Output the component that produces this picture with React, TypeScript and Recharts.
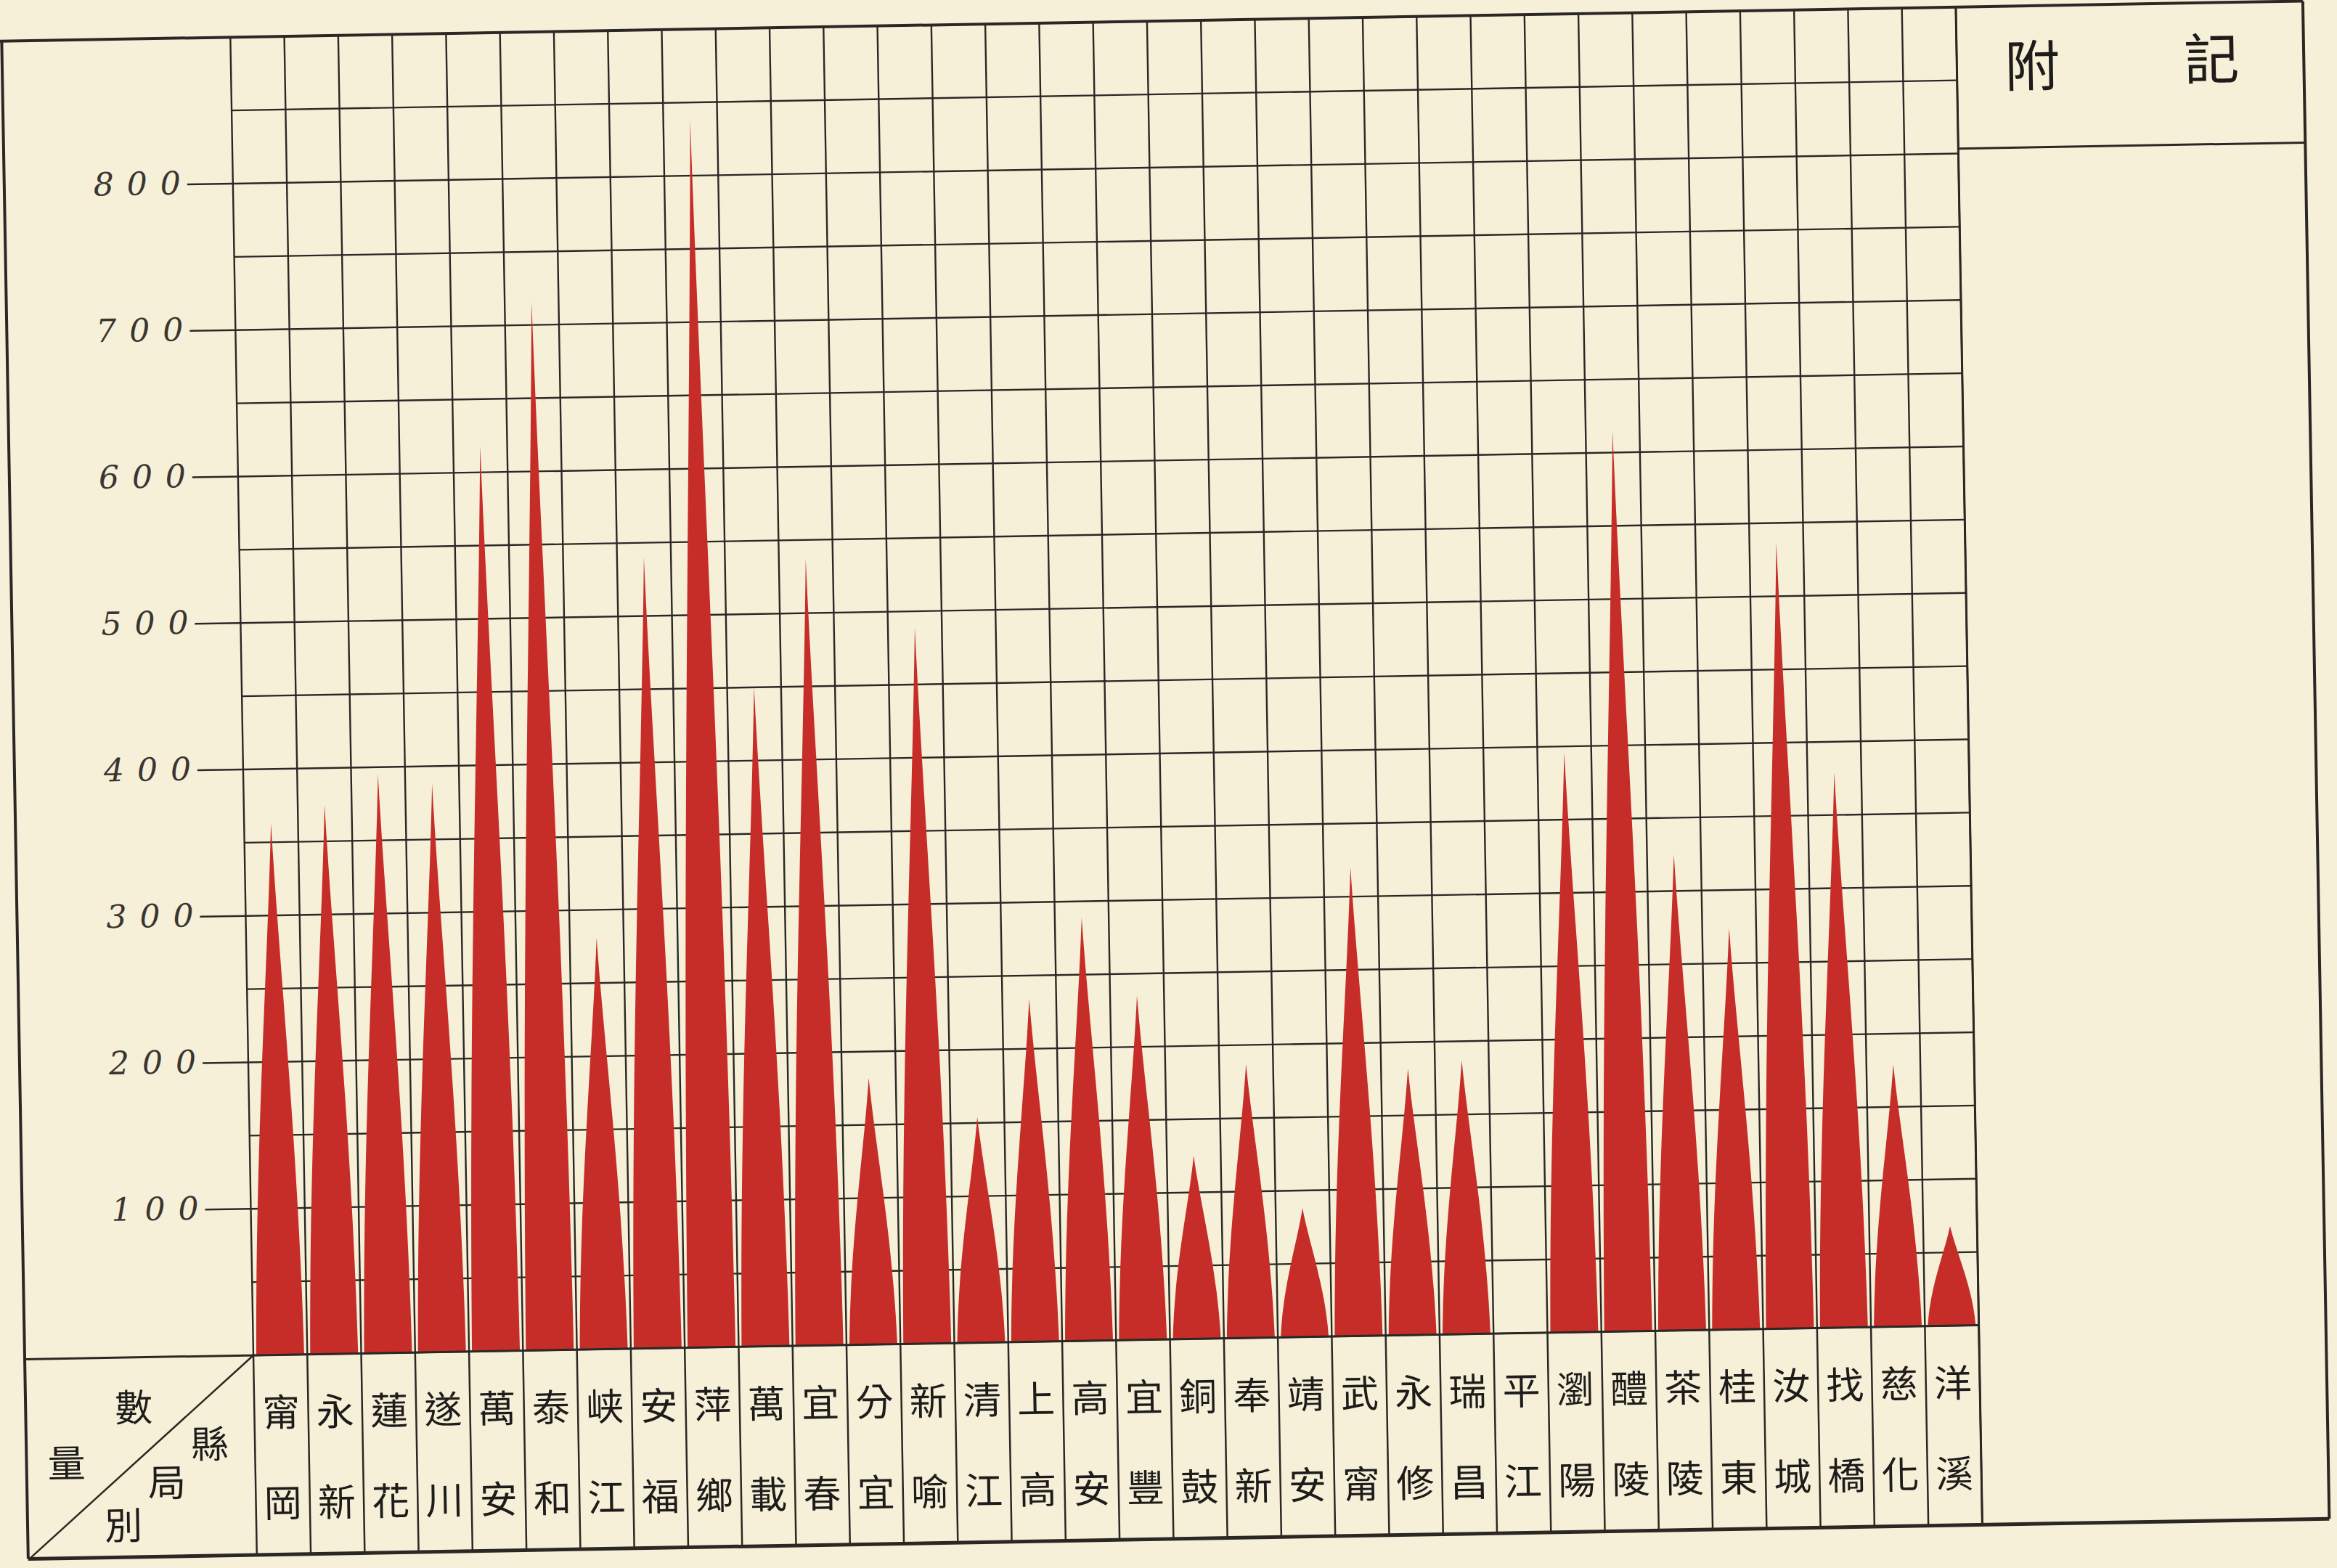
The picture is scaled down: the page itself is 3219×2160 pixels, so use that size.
import React from "react";
import { Bar, BarChart, CartesianGrid, XAxis, YAxis } from "recharts";

const counties = [
  "甯岡", "永新", "蓮花", "遂川", "萬安", "泰和", "峡江", "安福",
  "萍鄉", "萬載", "宜春", "分宜", "新喻", "清江", "上高", "高安",
  "宜豐", "銅鼓", "奉新", "靖安", "武甯", "永修", "瑞昌", "平江",
  "瀏陽", "醴陵", "茶陵", "桂東", "汝城", "找橋", "慈化", "洋溪",
];

const amounts = [
  363, 375, 395, 388, 618, 716, 281, 540,
  838, 450, 537, 182, 489, 154, 234, 289,
  235, 125, 187, 88, 320, 182, 187, 0,
  396, 615, 325, 274, 537, 379, 179, 68,
];

const yTicks = [0, 50, 100, 150, 200, 250, 300, 350, 400, 450, 500, 550, 600, 650, 700, 750, 800, 850, 900];

const data = counties.map((name, i) => ({ name, value: amounts[i] }));

const W = 3219;
const H = 2160;
const FRAME_LEFT = 34;
const FRAME_RIGHT = 3204;
const PLOT_LEFT = 349;
const PLOT_RIGHT = 2726;
const PLOT_TOP = 51;
const BASE = 1867;
const TABLE_BOTTOM = 2142;
const PANEL_LINE = 246;
const COL_W = (PLOT_RIGHT - PLOT_LEFT) / counties.length;
const INK = "#2b2824";
const RED = "#c62d28";
const PAPER = "#f6f0d9";
const CJK = "'Noto Sans CJK TC', 'Noto Sans CJK SC', sans-serif";

// flame-like spike: full near the base, needle tip
const Spike = (props: any) => {
  const { x, y, width, height } = props;
  if (!height || height <= 0) return null;
  const b = y + height;
  const cx = x + width / 2;
  const d =
    `M${x},${b} ` +
    `C${x + width * 0.06},${b - height * 0.4} ${cx - width * 0.13},${y + height * 0.28} ${cx},${y} ` +
    `C${cx + width * 0.13},${y + height * 0.28} ${x + width * 0.94},${b - height * 0.4} ${x + width},${b} Z`;
  return <path d={d} fill={RED} />;
};

const YTick = (props: any) => {
  const { y, payload } = props;
  const v = payload.value;
  if (v % 100 !== 0 || v === 0 || v === 900) return <g />;
  return (
    <g>
      <line x1={286} x2={PLOT_LEFT} y1={y} y2={y} stroke={INK} strokeWidth={2.5} />
      <text
        x={277 + 18}
        y={y}
        dy="0.3em"
        textAnchor="end"
        fontFamily="'DejaVu Serif', serif"
        fontStyle="italic"
        fontSize={44}
        letterSpacing={18}
        fill="#3a3530"
      >
        {v}
      </text>
    </g>
  );
};

const XTick = (props: any) => {
  const { x, payload, index } = props;
  const name = String(payload.value);
  const left = x - COL_W / 2;
  return (
    <g>
      <line x1={left} x2={left} y1={BASE} y2={TABLE_BOTTOM} stroke={INK} strokeWidth={2.5} />
      {index === counties.length - 1 && (
        <line x1={x + COL_W / 2} x2={x + COL_W / 2} y1={BASE} y2={TABLE_BOTTOM} stroke={INK} strokeWidth={2.5} />
      )}
      <text x={x} y={BASE + 80} dy="0.35em" textAnchor="middle" fontFamily={CJK} fontSize={52} fill="#1e1c1a">
        {name[0]}
      </text>
      <text x={x} y={BASE + 205} dy="0.35em" textAnchor="middle" fontFamily={CJK} fontSize={52} fill="#1e1c1a">
        {name[1]}
      </text>
    </g>
  );
};

const verticalPoints = Array.from({ length: counties.length + 1 }, (_, i) => PLOT_LEFT + i * COL_W);

const cjkText = (x: number, y: number, s: string, size: number) => (
  <text x={x} y={y} dy="0.35em" textAnchor="middle" fontFamily={CJK} fontSize={size} fill="#1e1c1a">
    {s}
  </text>
);

export default function App() {
  return (
    <div style={{ position: "absolute", left: 0, top: 0, width: W, height: H, background: PAPER, overflow: "hidden" }}>
      <div
        style={{
          position: "absolute",
          left: 0,
          top: 0,
          width: W,
          height: H,
          transform: "rotate(-1deg)",
          transformOrigin: `${PLOT_LEFT}px ${BASE}px`,
        }}
      >
        <BarChart
          width={W}
          height={H}
          data={data}
          margin={{ top: PLOT_TOP, right: W - PLOT_RIGHT, bottom: H - TABLE_BOTTOM, left: 0 }}
          barCategoryGap={4}
        >
          <XAxis
            dataKey="name"
            interval={0}
            height={TABLE_BOTTOM - BASE}
            axisLine={false}
            tickLine={false}
            tick={<XTick />}
          />
          <YAxis
            domain={[0, 900]}
            ticks={yTicks}
            width={PLOT_LEFT}
            axisLine={false}
            tickLine={false}
            tickSize={0}
            interval={0}
            tick={<YTick />}
          />
          <Bar dataKey="value" shape={<Spike />} isAnimationActive={false} />
          <CartesianGrid stroke={INK} strokeWidth={2.4} verticalPoints={verticalPoints} />
        </BarChart>
        <svg width={W} height={H} style={{ position: "absolute", left: 0, top: 0, pointerEvents: "none" }}>
          <line x1={0} x2={FRAME_RIGHT} y1={PLOT_TOP} y2={PLOT_TOP} stroke={INK} strokeWidth={4} />
          <line x1={FRAME_LEFT} x2={FRAME_LEFT} y1={PLOT_TOP} y2={TABLE_BOTTOM} stroke={INK} strokeWidth={4} />
          <line x1={FRAME_RIGHT} x2={FRAME_RIGHT} y1={PLOT_TOP} y2={TABLE_BOTTOM} stroke={INK} strokeWidth={4} />
          <line x1={FRAME_LEFT} x2={FRAME_RIGHT} y1={TABLE_BOTTOM} y2={TABLE_BOTTOM} stroke={INK} strokeWidth={5} />
          <line x1={FRAME_LEFT} x2={PLOT_RIGHT} y1={BASE} y2={BASE} stroke={INK} strokeWidth={3} />
          <line x1={PLOT_LEFT} x2={FRAME_LEFT + 4} y1={BASE} y2={TABLE_BOTTOM - 2} stroke={INK} strokeWidth={2.5} />
          <line x1={PLOT_RIGHT} x2={PLOT_RIGHT} y1={PLOT_TOP} y2={TABLE_BOTTOM} stroke={INK} strokeWidth={3} />
          <line x1={PLOT_RIGHT} x2={FRAME_RIGHT} y1={PANEL_LINE} y2={PANEL_LINE} stroke={INK} strokeWidth={3} />
          {cjkText(2830, 135, "附", 76)}
          {cjkText(3077, 130, "記", 76)}
          {cjkText(183, 1937, "數", 52)}
          {cjkText(89, 2012, "量", 52)}
          {cjkText(287, 1989, "縣", 52)}
          {cjkText(227, 2041, "局", 52)}
          {cjkText(166, 2099, "別", 52)}
        </svg>
      </div>
    </div>
  );
}
